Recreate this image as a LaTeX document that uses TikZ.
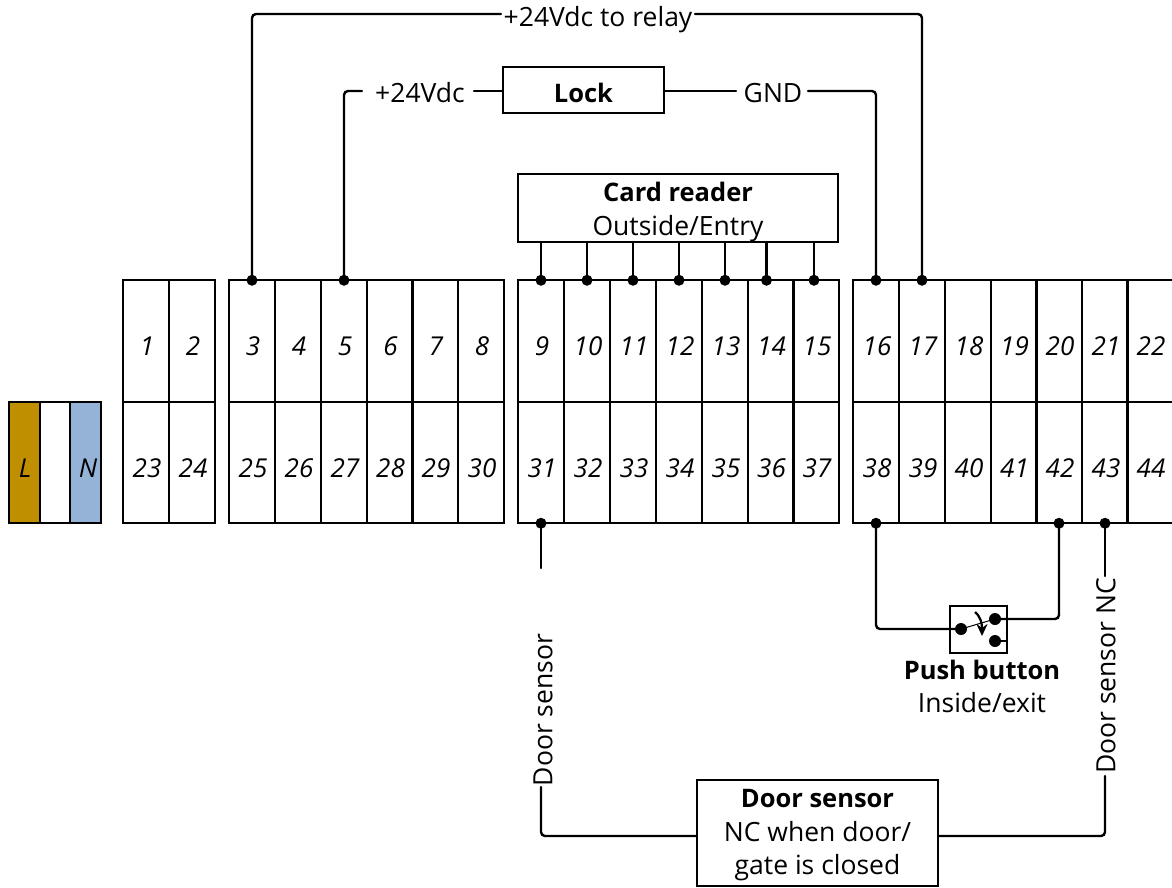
\documentclass[tikz,border=0pt]{standalone}
\usepackage{fontspec}
\setmainfont{Open Sans}
\usetikzlibrary{arrows.meta}
\definecolor{Lcol}{HTML}{BF8F00}
\definecolor{Ncol}{HTML}{95B3D7}
\newcommand{\fs}{\fontsize{26.5}{33.5}\selectfont}
\newcommand{\bfz}[1]{{\fontsize{25.5}{33.5}\selectfont\bfseries #1}}
\newcommand{\strt}[1]{\rule{0pt}{#1pt}}
\tikzset{
  x=1pt,y=-1pt,
  wire/.style={line width=2.4pt,rounded corners=4pt,line cap=round},
  cell/.style={draw,line width=2.2pt,inner sep=0pt,outer sep=0pt,minimum width=#1,minimum height=121.5pt},
  cell/.default=45.8pt,
  num/.style={inner sep=0pt,font=\fontsize{26}{30}\selectfont\itshape},
  lab/.style={inner sep=0pt,font=\fs},
  boxn/.style={draw,line width=2.2pt,fill=white,inner sep=0pt,outer sep=0pt,align=center,font=\fs},
  dot/.style={circle,fill=black,inner sep=0pt,minimum size=11pt},
  smalldot/.style={circle,fill=black,inner sep=0pt,minimum size=12pt},
}
\begin{document}
\begin{tikzpicture}
\useasboundingbox (0,0) rectangle (1172,887);
% mains
\node[cell=30.5pt,fill=Lcol] (L) at (24.5,462.5) {};
\node[cell=30.5pt] (M) at (55,462.5) {};
\node[cell=30.5pt,fill=Ncol] (N) at (85.5,462.5) {};
\node[num] (Ltxt) at (25,468) {L};
\node[num] (Ntxt) at (88,468) {N};
% terminals
\foreach \n/\x in {1/146,2/192,3/252,4/298,5/344,6/389.5,7/435,8/481,
  9/541,10/587,11/633,12/679,13/725,14/770.5,15/816,
  16/876,17/922,18/968,19/1013.5,20/1059,21/1105,22/1150}{
  \node[cell] (t\n) at (\x,341) {};
  \node[num] (n\n) at (\x+1,346) {\n};
}
\foreach \n/\x in {23/146,24/192,25/252,26/298,27/344,28/389.5,29/435,30/481,
  31/541,32/587,33/633,34/679,35/725,36/770.5,37/816,
  38/876,39/922,40/968,41/1013.5,42/1059,43/1105,44/1150}{
  \node[cell] (t\n) at (\x,462.5) {};
  \node[num] (n\n) at (\x+1,468) {\n};
}
% dots
\foreach \n in {3,5,9,10,11,12,13,16,17}{\node[dot] (d\n) at (t\n.north) {};}
\node[dot] (d14) at ([xshift=-4pt]t14.north) {};
\node[dot] (d15) at ([xshift=-2pt]t15.north) {};
\foreach \n in {31,38,42,43}{\node[dot] (d\n) at (t\n.south) {};}
% boxes
\node[boxn,minimum width=161pt,minimum height=46pt] (lock) at (583.5,90) {\strt{26}\bfz{Lock}};
\node[boxn,minimum width=320pt,minimum height=68pt] (card) at (678,208) {\strt{27}\bfz{Card reader}\\Outside/Entry};
\node[boxn,minimum width=241pt,minimum height=106pt] (sensor) at (817.5,833) {\strt{23}\bfz{Door sensor}\\NC when door/\\gate is closed};
\node[draw,line width=2.2pt,inner sep=0pt,outer sep=0pt,minimum width=57pt,minimum height=47pt] (push) at (978.5,629.5) {};
% labels
\node[lab] (relay) at (598,20) {+24Vdc to relay};
\node[lab] (v24) at (420,93) {+24Vdc};
\node[lab] (gnd) at (773,93) {GND};
\node[lab] (pb1) at (982,670) {\bfz{Push button}};
\node[lab] (pb2) at (982,703) {Inside/exit};
\node[lab,rotate=90] (ds) at (543,710) {Door sensor};
\node[lab,rotate=90] (dsnc) at (1106,676) {Door sensor NC};
\coordinate (relayL) at (501,14);
\coordinate (relayR) at (695,14);
\coordinate (vL) at (362,91);
\coordinate (vR) at (474,91);
\coordinate (gL) at (736,91);
\coordinate (gR) at (808,91);
\coordinate (dsB) at (541,787);
\coordinate (wT) at (541,568);
\coordinate (sL) at (697,836);
\coordinate (sR) at (938,836);
\coordinate (ncB) at (1105,776);
\coordinate (ncT) at (1105,576);
% wires
\draw[wire] (d3.center) |- (relayL);
\draw[wire] (d17.center) |- (relayR);
\draw[wire] (d5.center) |- (vL);
\draw[wire] (vR) -- (lock.west |- vR);
\draw[wire] (lock.east |- gL) -- (gL);
\draw[wire] (d16.center) |- (gR);
\foreach \n in {9,10,11,12,13,14,15}{
  \draw[wire] (d\n.center) -- (d\n.center |- card.south);
}
\draw[wire] (d31.center) -- (wT);
\draw[wire] (dsB) |- (sL);
\draw[wire] (sR) -| (ncB);
\draw[wire] (ncT) -- (d43.center);
% push button
\node[smalldot] (a) at (961,629) {};
\node[smalldot] (b) at (995,619) {};
\node[smalldot] (c) at (995,641) {};
\draw[wire] (d38.center) |- (a.center);
\draw[wire] (b.center) -| (d42.center);
\draw[wire] (c.center) -- (c.center -| push.east);
\draw[line width=1pt] (a.center) -- (b.center);
\draw[line width=2.2pt,-{Stealth[length=12pt,width=11pt]}] (975,612) .. controls (981,617) and (982,624) .. (982,636);
\end{tikzpicture}
\end{document}
